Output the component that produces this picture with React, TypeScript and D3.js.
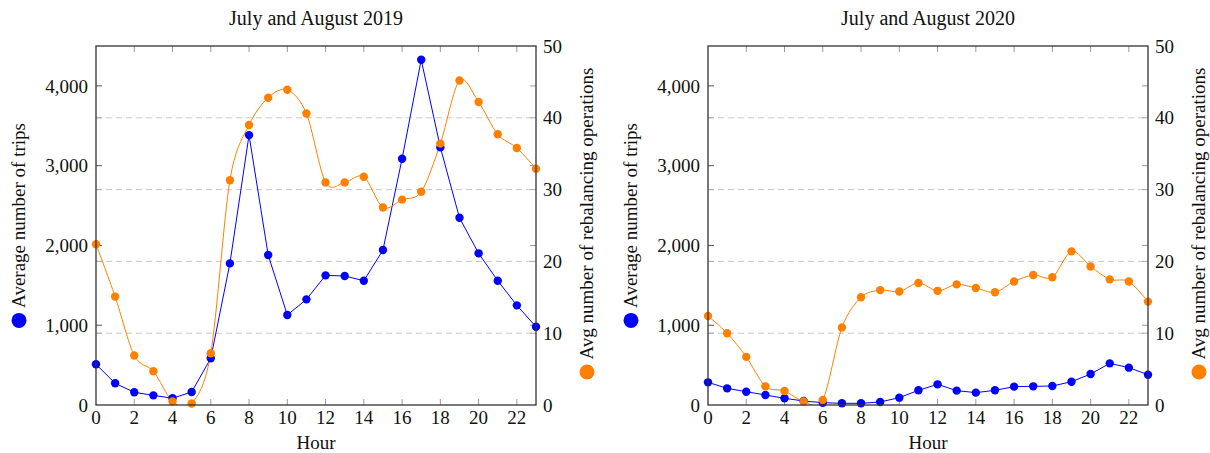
import React, { useRef, useLayoutEffect, useState } from 'react';
import * as d3 from 'd3';

// hourly averages
const hours = [0, 1, 2, 3, 4, 5, 6, 7, 8, 9, 10, 11, 12, 13, 14, 15, 16, 17, 18, 19, 20, 21, 22, 23];
const trips2019 = [510, 272, 159, 121, 85, 163, 585, 1775, 3383, 1880, 1128, 1324, 1625, 1617, 1558, 1942, 3087, 4327, 3229, 2347, 1901, 1558, 1249, 981];
const rebal2019 = [22.4, 15.1, 6.9, 4.7, 0.5, 0.2, 7.2, 31.3, 39.0, 42.8, 43.9, 40.6, 31.0, 31.0, 31.8, 27.5, 28.6, 29.7, 36.4, 45.2, 42.2, 37.7, 35.8, 32.9];
const trips2020 = [284, 209, 167, 125, 84, 50, 29, 21, 21, 38, 92, 184, 259, 180, 155, 184, 230, 234, 238, 292, 388, 522, 468, 380];
const rebal2020 = [12.4, 10.0, 6.7, 2.6, 1.95, 0.5, 0.7, 10.8, 15.0, 16.0, 15.8, 17.0, 15.9, 16.8, 16.3, 15.7, 17.2, 18.1, 17.8, 21.4, 19.3, 17.5, 17.2, 14.4];

const titles = ['July and August 2019', 'July and August 2020'];
const tripTicks = [0, 1000, 2000, 3000, 4000];
const rebalTicks = [0, 10, 20, 30, 40, 50];
const hourTicks = [0, 2, 4, 6, 8, 10, 12, 14, 16, 18, 20, 22];

const width = 1210;
const height = 453;
const top = 46;
const bottom = 405;
const BLUE = '#0000ff';
const ORANGE = '#ff8000';
const font = '"Liberation Serif", "DejaVu Serif", serif';

const LegendLabel = ({ x, y, text, color }: { x: number; y: number; text: string; color: string }) => {
  const ref = useRef<SVGTextElement>(null);
  const [len, setLen] = useState(190);
  useLayoutEffect(() => {
    if (ref.current) setLen(ref.current.getComputedTextLength());
  }, [text]);
  const r = 7.5;
  const gap = 5;
  const total = 2 * r + gap + len;
  return (
    <g transform={`translate(${x},${y}) rotate(-90)`}>
      <circle cx={-total / 2 + r} cy={0} r={r} fill={color} />
      <text ref={ref} x={-total / 2 + 2 * r + gap} dy="0.32em" fontSize={19} fill="#111">
        {text}
      </text>
    </g>
  );
};

const Panel = ({ left, right, title, trips, rebal, id }: {
  left: number; right: number; title: string; trips: number[]; rebal: number[]; id: string;
}) => {
  const x = d3.scaleLinear().domain([0, 23]).range([left, right]);
  const yL = d3.scaleLinear().domain([0, 4500]).range([bottom, top]);
  const yR = d3.scaleLinear().domain([0, 50]).range([bottom, top]);

  const tripLine = d3.line<number>().x((_, i) => x(hours[i])).y(d => yL(d));
  const rebalLine = d3.line<number>().x((_, i) => x(hours[i])).y(d => yR(d)).curve(d3.curveCardinal.tension(0.08));
  const mid = (left + right) / 2;

  return (
    <g>
      <defs>
        <clipPath id={id}>
          <rect x={left} y={top} width={right - left} height={bottom - top} />
        </clipPath>
      </defs>
      <text x={mid} y={25} textAnchor="middle" fontSize={20} fill="#111">{title}</text>

      {/* dashed grid from the right axis */}
      {rebalTicks.filter(t => t > 0 && t < 50).map(t => (
        <g key={'g' + t}>
          <line x1={left} x2={right} y1={yR(t)} y2={yR(t)} stroke="#c8c8c8" strokeDasharray="6,4" />
          <line x1={left} x2={left + 6} y1={yR(t)} y2={yR(t)} stroke="#aaa" />
          <line x1={right - 6} x2={right} y1={yR(t)} y2={yR(t)} stroke="#aaa" />
        </g>
      ))}

      {tripTicks.filter(t => t > 0).map(t => (
        <g key={'l' + t}>
          <line x1={left} x2={left + 6} y1={yL(t)} y2={yL(t)} stroke="#555" />
          <line x1={right - 6} x2={right} y1={yL(t)} y2={yL(t)} stroke="#999" />
        </g>
      ))}
      {hourTicks.filter(t => t > 0).map(t => (
        <g key={'x' + t}>
          <line x1={x(t)} x2={x(t)} y1={bottom} y2={bottom - 6} stroke="#999" />
          <line x1={x(t)} x2={x(t)} y1={top} y2={top + 6} stroke="#999" />
        </g>
      ))}

      <g clipPath={`url(#${id})`}>
        <path d={tripLine(trips) || ''} fill="none" stroke={BLUE} strokeWidth={1} />
        <path d={rebalLine(rebal) || ''} fill="none" stroke={ORANGE} strokeWidth={1} />
      </g>
      {trips.map((d, i) => (
        <circle key={'b' + i} cx={x(hours[i])} cy={yL(d)} r={4.2} fill={BLUE} />
      ))}
      {rebal.map((d, i) => (
        <circle key={'o' + i} cx={x(hours[i])} cy={yR(d)} r={4.2} fill={ORANGE} />
      ))}

      <rect x={left} y={top} width={right - left} height={bottom - top} fill="none" stroke="#333" strokeWidth={1.3} />

      {tripTicks.map(t => (
        <text key={'tl' + t} x={left - 8} y={yL(t)} dy="0.35em" textAnchor="end" fontSize={19} fill="#111">
          {d3.format(',')(t)}
        </text>
      ))}
      {rebalTicks.map(t => (
        <text key={'tr' + t} x={right + 7} y={yR(t)} dy="0.35em" textAnchor="start" fontSize={19} fill="#111">
          {t}
        </text>
      ))}
      {hourTicks.map(t => (
        <text key={'tx' + t} x={x(t)} y={423.5} textAnchor="middle" fontSize={19} fill="#111">{t}</text>
      ))}
      <text x={mid} y={449} textAnchor="middle" fontSize={19} fill="#111">Hour</text>

      <LegendLabel x={left - 77} y={(top + bottom) / 2} text="Average number of trips" color={BLUE} />
      <LegendLabel x={right + 51} y={(top + bottom) / 2 - 2} text="Avg number of rebalancing operations" color={ORANGE} />
    </g>
  );
};

export default function App() {
  return (
    <svg
      width={width}
      height={height}
      style={{ position: 'absolute', left: 0, top: 0, background: '#fff' }}
      fontFamily={font}
    >
      <Panel left={96} right={536} title={titles[0]} trips={trips2019} rebal={rebal2019} id="clip2019" />
      <Panel left={708} right={1148} title={titles[1]} trips={trips2020} rebal={rebal2020} id="clip2020" />
    </svg>
  );
}
